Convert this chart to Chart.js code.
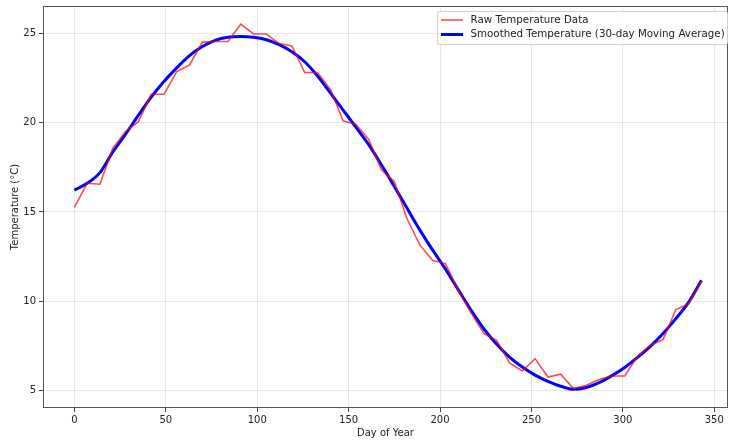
<!DOCTYPE html>
<html>
<head>
<meta charset="utf-8">
<script src="https://cdn.jsdelivr.net/npm/chart.js@4"></script>
<style>
  html, body { margin: 0; padding: 0; background: #ffffff; }
  #wrap { width: 729px; height: 440px; }
</style>
</head>
<body>
<div id="wrap"><canvas id="c" width="729" height="440"></canvas></div>
<script>
// ---- data ----
const days = [0, 7, 14, 21, 28, 35, 42, 49, 56, 63, 70, 77, 84, 91, 98, 105, 112, 119, 126, 133,
  140, 147, 154, 161, 168, 175, 182, 189, 196, 203, 210, 217, 224, 231, 238, 245, 252, 259, 266, 273,
  280, 287, 294, 301, 308, 315, 322, 329, 336, 343];

const rawTemps = [15.25, 16.6, 16.55, 18.55, 19.5, 20.05, 21.58, 21.58, 22.85, 23.22,
  24.5, 24.53, 24.53, 25.5, 24.96, 24.95, 24.42, 24.29, 22.8, 22.8,
  21.86, 20.1, 19.9, 19.05, 17.34, 16.7, 14.6, 13.14, 12.28, 12.11,
  10.6, 9.35, 8.19, 7.82, 6.55, 6.1, 6.79, 5.76, 5.92, 5.12,
  5.3, 5.62, 5.82, 5.82, 6.92, 7.54, 7.86, 9.54, 9.87, 11.14];

const smoothTemps = [16.22, 16.6, 17.2, 18.35, 19.35, 20.4, 21.42, 22.3, 23.06, 23.74,
  24.25, 24.6, 24.77, 24.81, 24.77, 24.63, 24.36, 23.96, 23.4, 22.6,
  21.66, 20.7, 19.74, 18.76, 17.62, 16.42, 15.2, 13.98, 12.86, 11.8,
  10.64, 9.5, 8.45, 7.6, 6.88, 6.32, 5.87, 5.52, 5.25, 5.08,
  5.18, 5.45, 5.84, 6.3, 6.86, 7.48, 8.2, 9.03, 9.95, 11.18];

const xTicks = [0, 50, 100, 150, 200, 250, 300, 350];
const yTicks = [5, 10, 15, 20, 25];

const seriesLabels = ['Raw Temperature Data', 'Smoothed Temperature (30-day Moving Average)'];
const xTitle = 'Day of Year';
const yTitle = 'Temperature (°C)';

// ---- chart ----
const FONT = "'DejaVu Sans', sans-serif";
Chart.defaults.font.family = FONT;
Chart.defaults.font.size = 10;
Chart.defaults.color = '#222';

const toPoints = (xs, ys) => xs.map((x, i) => ({ x: x, y: ys[i] }));

const framePlugin = {
  id: 'frameAndLegend',
  afterDraw(chart) {
    const { ctx, chartArea: a } = chart;
    ctx.save();
    // full frame (all four spines)
    ctx.strokeStyle = '#555';
    ctx.lineWidth = 1;
    ctx.strokeRect(Math.round(a.left) + 0.5, Math.round(a.top) + 0.5,
      Math.round(a.right - a.left) - 1, Math.round(a.bottom - a.top) - 1);

    // legend box, upper right inside plot
    const bx = 437.5, by = 11.5, bw = 290, bh = 33;
    ctx.fillStyle = 'rgba(255,255,255,0.85)';
    ctx.strokeStyle = '#d0d0d0';
    ctx.lineWidth = 1;
    ctx.beginPath();
    if (ctx.roundRect) ctx.roundRect(bx, by, bw, bh, 2); else ctx.rect(bx, by, bw, bh);
    ctx.fill();
    ctx.stroke();

    const rows = [20, 34.5];
    chart.data.datasets.forEach((ds, i) => {
      ctx.strokeStyle = ds.borderColor;
      ctx.lineWidth = ds.borderWidth;
      ctx.beginPath();
      ctx.moveTo(441, rows[i]);
      ctx.lineTo(463, rows[i]);
      ctx.stroke();
      ctx.fillStyle = '#222';
      ctx.font = '10.3px ' + FONT;
      ctx.textBaseline = 'middle';
      ctx.textAlign = 'left';
      ctx.fillText(ds.label, 470.5, rows[i]);
    });
    ctx.restore();
  }
};

new Chart(document.getElementById('c'), {
  type: 'line',
  data: {
    datasets: [
      {
        label: seriesLabels[0],
        data: toPoints(days, rawTemps),
        borderColor: 'rgba(255,0,0,0.7)',
        borderWidth: 1.6,
        pointRadius: 0,
        tension: 0,
        fill: false
      },
      {
        label: seriesLabels[1],
        data: toPoints(days, smoothTemps),
        borderColor: '#0000ff',
        borderWidth: 3,
        pointRadius: 0,
        cubicInterpolationMode: 'monotone',
        fill: false
      }
    ]
  },
  options: {
    responsive: false,
    animation: false,
    events: [],
    layout: { padding: { top: 6, right: 1, left: 0, bottom: 0 } },
    plugins: {
      legend: { display: false },
      tooltip: { enabled: false },
      title: { display: false }
    },
    scales: {
      x: {
        type: 'linear',
        min: -17.15,
        max: 357.5,
        afterFit(s) { s.height = 32; s.paddingLeft = 0; s.paddingRight = 0; },
        afterBuildTicks(s) { s.ticks = xTicks.map(v => ({ value: v })); },
        ticks: { padding: 2, maxRotation: 0, autoSkip: false, color: '#222', font: { size: 10 } },
        grid: { color: 'rgba(176,176,176,0.3)', lineWidth: 1, tickColor: '#444', tickLength: 4, drawTicks: true },
        border: { display: false },
        title: { display: true, text: xTitle, color: '#222', font: { size: 10 }, padding: { top: 0, bottom: 1 } }
      },
      y: {
        type: 'linear',
        min: 4.03,
        max: 26.52,
        afterFit(s) { s.width = 43; s.paddingTop = 0; s.paddingBottom = 0; },
        afterBuildTicks(s) { s.ticks = yTicks.map(v => ({ value: v })); },
        ticks: { padding: 3, color: '#222', font: { size: 10 } },
        grid: { color: 'rgba(176,176,176,0.3)', lineWidth: 1, tickColor: '#444', tickLength: 4, drawTicks: true },
        border: { display: false },
        title: { display: true, text: yTitle, color: '#222', font: { size: 10 }, padding: { top: 9, bottom: 0 } }
      }
    }
  },
  plugins: [framePlugin]
});
</script>
</body>
</html>
